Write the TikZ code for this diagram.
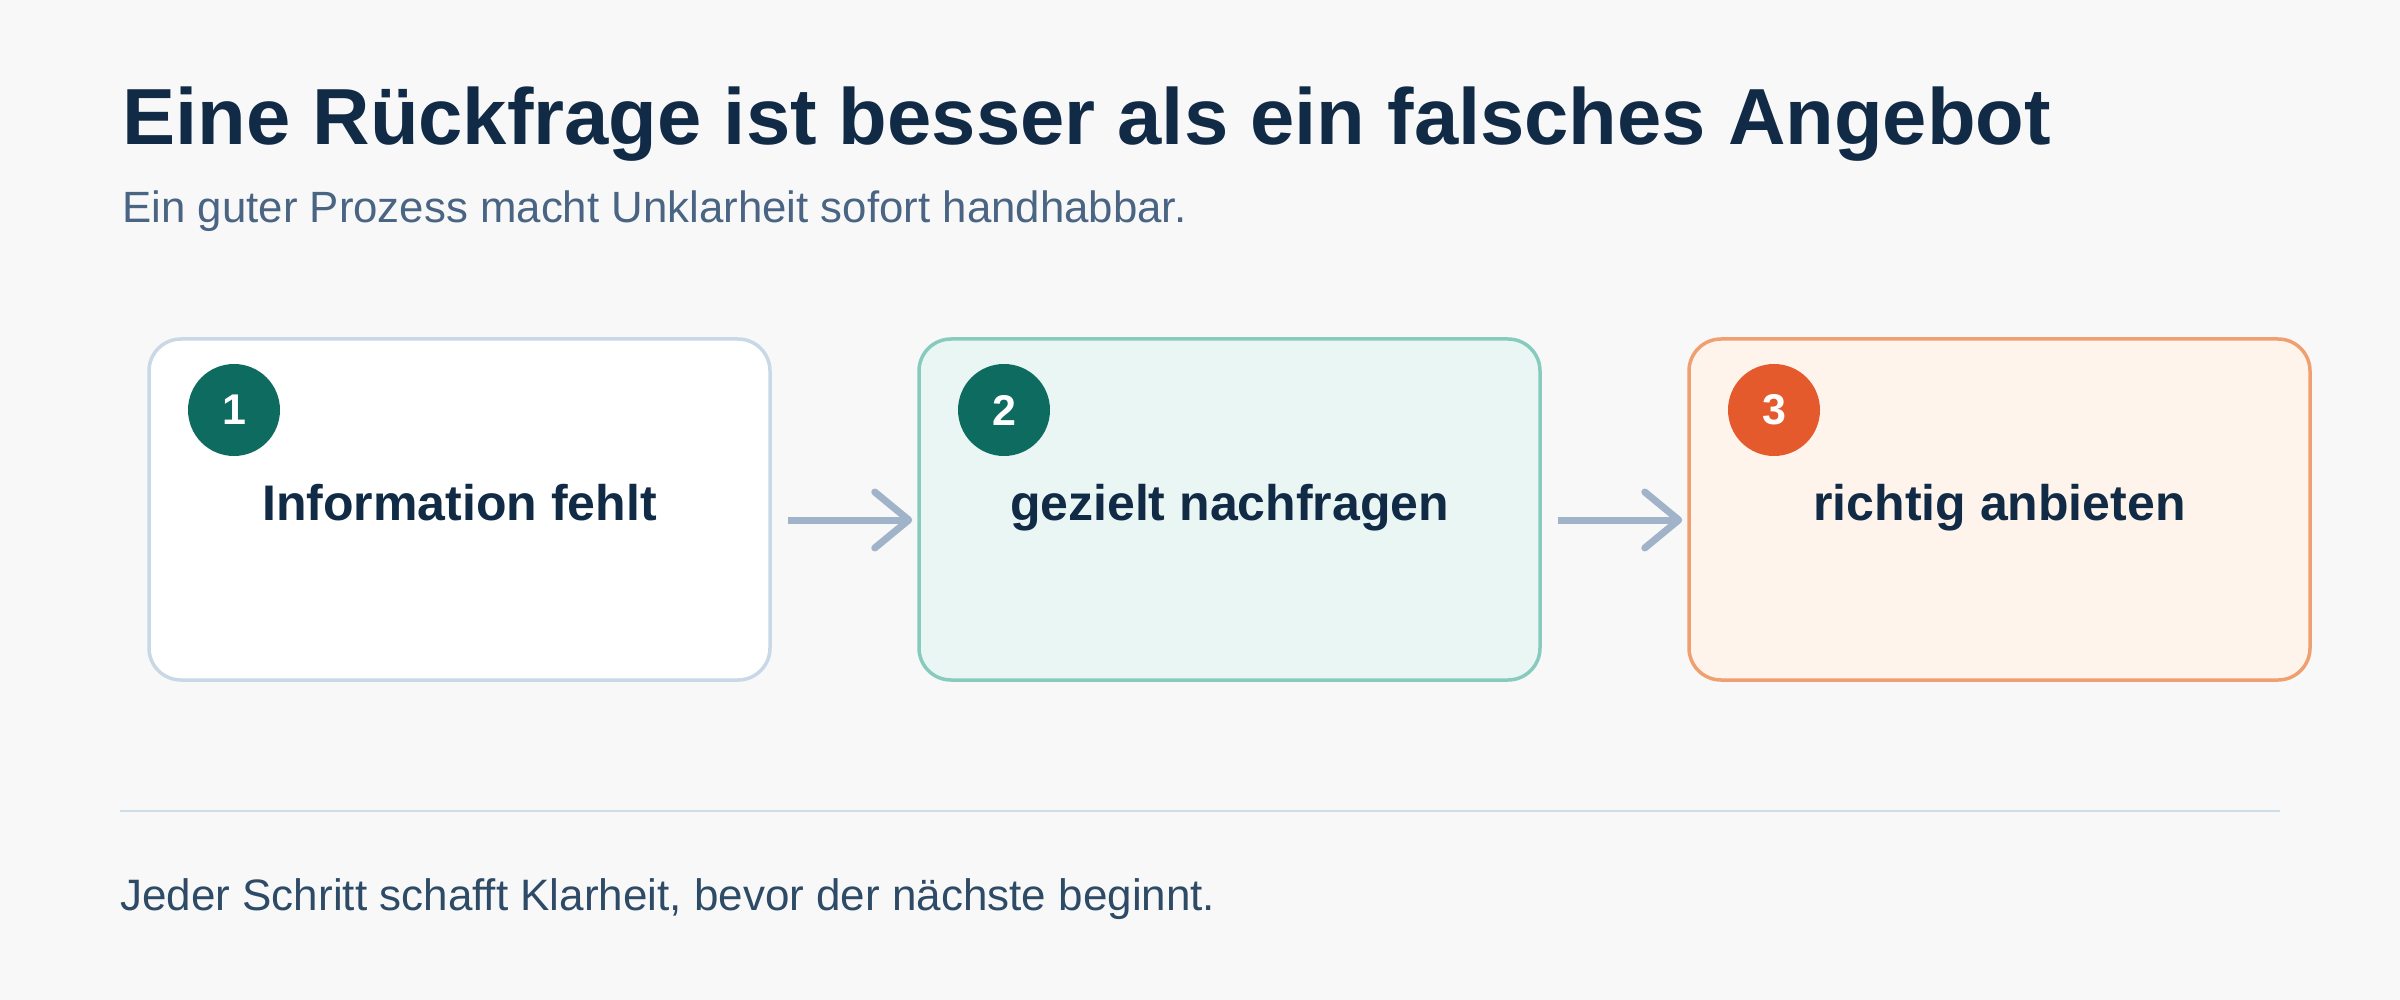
\documentclass[tikz,border=0pt]{standalone}
\usepackage{fontspec}
\setmainfont{Liberation Sans}
\usetikzlibrary{arrows.meta}
\definecolor{bgc}{HTML}{F8F8F8}
\definecolor{titlec}{HTML}{112A45}
\definecolor{subc}{HTML}{4A6583}
\definecolor{footc}{HTML}{2D4A66}
\definecolor{rulec}{HTML}{CFDDE6}
\definecolor{oneborder}{HTML}{C9D8E6}
\definecolor{twofill}{HTML}{E9F6F3}
\definecolor{twoborder}{HTML}{86CBBD}
\definecolor{threefill}{HTML}{FFF4EC}
\definecolor{threeborder}{HTML}{F0A070}
\definecolor{tealc}{HTML}{0E6B60}
\definecolor{orangec}{HTML}{E45A2D}
\definecolor{arrowc}{HTML}{A0B3C8}
\tikzset{
  stepbox/.style={rectangle, rounded corners=16pt, line width=1.75pt,
    minimum width=310.5pt, minimum height=170.5pt, inner sep=0pt},
  numcirc/.style={circle, minimum size=46pt, inner sep=0pt, text=white,
    font=\fontsize{21.5pt}{24pt}\selectfont\bfseries},
  steplabel/.style={anchor=base, inner sep=0pt, text=titlec,
    font=\fontsize{25pt}{30pt}\selectfont\bfseries},
  flowarrow/.style={draw=arrowc, line width=3.5pt,
    -{Straight Barb[length=17pt,width=28pt,round]}}
}
\begin{document}
\begin{tikzpicture}[x=0.5pt,y=-0.5pt]
\useasboundingbox (0,0) rectangle (2400,1000);
\fill[bgc] (0,0) rectangle (2400,1000);

\node[anchor=base west, inner sep=0pt, text=titlec,
  font=\fontsize{39.8pt}{48pt}\selectfont\bfseries] (title) at (122,145)
  {Eine Rückfrage ist besser als ein falsches Angebot};
\node[anchor=base west, inner sep=0pt, text=subc,
  font=\fontsize{21.9pt}{26pt}\selectfont] (subtitle) at (122,223)
  {Ein guter Prozess macht Unklarheit sofort handhabbar.};

\node[stepbox, fill=white, draw=oneborder] (b1) at (459.5,509.5) {};
\node[stepbox, fill=twofill, draw=twoborder] (b2) at (1229.5,509.5) {};
\node[stepbox, fill=threefill, draw=threeborder] (b3) at (1999.5,509.5) {};

\node[numcirc, fill=tealc] (c1) at (234,410) {1};
\node[numcirc, fill=tealc] (c2) at (1004,410) {2};
\node[numcirc, fill=orangec] (c3) at (1774,410) {3};

\node[steplabel] (l1) at (459.5,520) {Information fehlt};
\node[steplabel] (l2) at (1229.5,520) {gezielt nachfragen};
\node[steplabel] (l3) at (1999.5,520) {richtig anbieten};

\draw[flowarrow] ([xshift=8pt,yshift=-5.25pt]b1.east) -- ([xshift=-2.5pt,yshift=-5.25pt]b2.west);
\draw[flowarrow] ([xshift=8pt,yshift=-5.25pt]b2.east) -- ([xshift=-2.5pt,yshift=-5.25pt]b3.west);

\coordinate (rulea) at (120,811);
\coordinate (ruleb) at (2280,811);
\draw[rulec, line width=1pt] (rulea) -- (ruleb);

\node[anchor=base west, inner sep=0pt, text=footc,
  font=\fontsize{22pt}{26pt}\selectfont] (footer) at (120,910)
  {Jeder Schritt schafft Klarheit, bevor der nächste beginnt.};
\end{tikzpicture}
\end{document}
